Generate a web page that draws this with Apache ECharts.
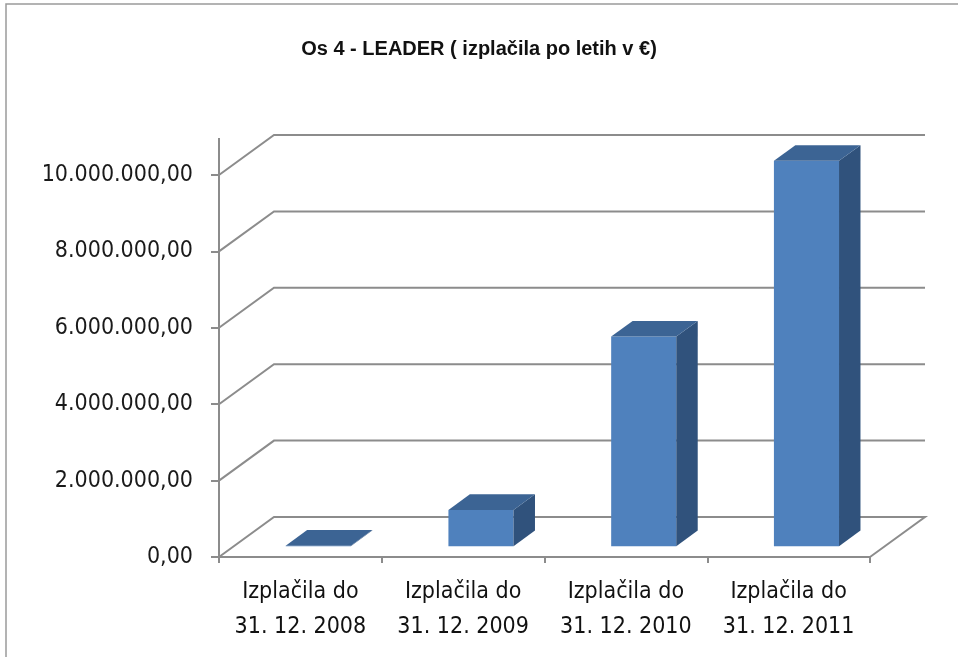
<!DOCTYPE html>
<html>
<head>
<meta charset="utf-8">
<script src="https://cdn.jsdelivr.net/npm/echarts@6/dist/echarts.min.js"></script>
<style>
  html, body { margin: 0; padding: 0; background: #fff; }
  #chart { width: 958px; height: 657px; }
</style>
</head>
<body>
<div id="chart"></div>
<script>
// podatki
const categories = [
  'Izplačila do\n31. 12. 2008',
  'Izplačila do\n31. 12. 2009',
  'Izplačila do\n31. 12. 2010',
  'Izplačila do\n31. 12. 2011'
];
const payments = [15000, 950000, 5490000, 10090000];
const yTicks = [0, 2000000, 4000000, 6000000, 8000000, 10000000];

// 3D izgled (odmik zadnje stene v px)
const DEPTH = [55, -40];
const BAR_FRONT = 0.27;
const BAR_BACK = 0.66;
const BAR_WIDTH = 0.4;

function fmt(v) {
  let s = Math.round(v).toString().replace(/\B(?=(\d{3})+(?!\d))/g, '.');
  return s + ',00';
}

const chart = echarts.init(document.getElementById('chart'));

chart.setOption({
  backgroundColor: '#fff',
  animation: false,
  title: {
    text: 'Os 4 - LEADER ( izplačila po letih v €)',
    left: 'center',
    top: 34,
    textStyle: {
      fontFamily: 'Liberation Sans',
      fontSize: 20,
      fontWeight: 'bold',
      color: '#111'
    }
  },
  graphic: [{
    type: 'rect',
    shape: { x: 6, y: 4, width: 960, height: 670 },
    style: { fill: null, stroke: '#9a9a9a', lineWidth: 1.5 },
    silent: true
  }],
  grid: { left: 219, right: 88, top: 175, bottom: 100 },
  xAxis: {
    type: 'category',
    data: categories,
    boundaryGap: true,
    axisLine: { lineStyle: { color: '#8c8c8c', width: 2 } },
    axisTick: { show: true, length: 6, lineStyle: { color: '#8c8c8c', width: 2 } },
    axisLabel: {
      interval: 0,
      margin: 18,
      fontFamily: 'DejaVu Sans Condensed, DejaVu Sans',
      fontSize: 23,
      lineHeight: 35,
      color: '#111'
    },
    splitLine: { show: false }
  },
  yAxis: {
    type: 'value',
    min: 0,
    max: 10000000,
    interval: 2000000,
    axisLine: { show: false },
    axisTick: { show: true, length: 8, lineStyle: { color: '#8c8c8c', width: 2 } },
    axisLabel: {
      margin: 26,
      formatter: fmt,
      fontFamily: 'DejaVu Sans Condensed, DejaVu Sans',
      fontSize: 23,
      color: '#1a1a1a'
    },
    splitLine: { show: false }
  },
  series: [
    {
      // stene in tla
      type: 'custom',
      silent: true,
      z: 1,
      data: yTicks.map(v => [0, v]),
      renderItem: function (params, api) {
        const v = api.value(1);
        const left = api.coord([0, v]);
        const right = api.coord([categories.length - 1, v]);
        const bw = api.size([1, 0])[0];
        const x0 = left[0] - bw / 2;
        const x1 = right[0] + bw / 2;
        const y = left[1];
        const pts = [[x0, y], [x0 + DEPTH[0], y + DEPTH[1]], [x1 + DEPTH[0], y + DEPTH[1]]];
        if (v === 0) pts.push([x1, y]);
        const children = [{
          type: 'polyline',
          shape: { points: pts },
          style: { stroke: '#8c8c8c', lineWidth: 2, fill: null }
        }];
        if (params.dataIndex === 0) {
          const top = api.coord([0, yTicks[yTicks.length - 1]]);
          children.push({
            type: 'line',
            shape: { x1: x0, y1: y + 6, x2: x0, y2: top[1] - 37 },
            style: { stroke: '#8c8c8c', lineWidth: 2 }
          });
        }
        return { type: 'group', children: children };
      }
    },
    {
      // 3D stolpci
      type: 'custom',
      z: 2,
      data: payments.map((v, i) => [i, v]),
      renderItem: function (params, api) {
        const i = api.value(0);
        const top = api.coord([i, api.value(1)]);
        const base = api.coord([i, 0]);
        const bw = api.size([1, 0])[0] * BAR_WIDTH;
        const fx = DEPTH[0] * BAR_FRONT, fy = DEPTH[1] * BAR_FRONT;
        const dx = DEPTH[0] * (BAR_BACK - BAR_FRONT), dy = DEPTH[1] * (BAR_BACK - BAR_FRONT);
        const xl = top[0] - bw / 2 + fx + 3;
        const xr = xl + bw;
        const yt = top[1] + fy;
        const yb = base[1] + fy;
        const children = [];
        if (yb - yt > 0.5) {
          children.push({
            type: 'polygon',
            shape: { points: [[xl, yt], [xr, yt], [xr, yb], [xl, yb]] },
            style: { fill: '#4F81BD' }
          });
          children.push({
            type: 'polygon',
            shape: { points: [[xr, yt], [xr + dx, yt + dy], [xr + dx, yb + dy], [xr, yb]] },
            style: { fill: '#30527C' }
          });
        }
        children.push({
          type: 'polygon',
          shape: { points: [[xl, yt], [xl + dx, yt + dy], [xr + dx, yt + dy], [xr, yt]] },
          style: { fill: '#3C6494' }
        });
        return { type: 'group', children: children };
      }
    }
  ]
});
</script>
</body>
</html>
